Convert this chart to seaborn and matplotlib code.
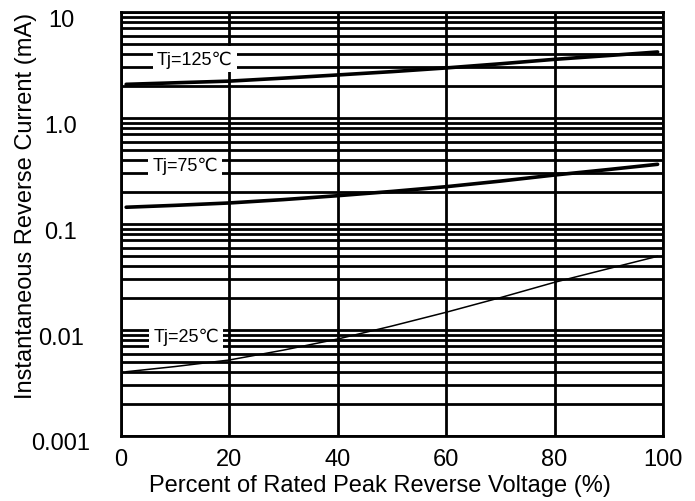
import matplotlib
matplotlib.use("Agg")
import matplotlib.pyplot as plt
import matplotlib.ticker as mticker
import matplotlib.transforms as mtransforms
import numpy as np
import pandas as pd
import seaborn as sns

# Percent of rated peak reverse voltage
voltage_pct = [1, 10, 20, 30, 40, 50, 60, 70, 80, 90, 99]
# Instantaneous reverse current (mA) at each junction temperature
current_125 = [2.08, 2.15, 2.23, 2.38, 2.55, 2.74, 2.97, 3.25, 3.58, 3.89, 4.20]
current_75 = [0.144, 0.150, 0.158, 0.170, 0.185, 0.203, 0.225, 0.254, 0.290, 0.327, 0.366]
current_25 = [0.00404, 0.00452, 0.00521, 0.00646, 0.00822, 0.0109, 0.0147, 0.0202, 0.0282, 0.0380, 0.0496]

curve_labels = ["Tj=125℃", "Tj=75℃", "Tj=25℃"]
label_x = [6.7, 5.8, 6.0]
label_y = [3.6, 0.36, 0.0088]

x_ticks = [0, 20, 40, 60, 80, 100]
y_ticks = [0.001, 0.01, 0.1, 1.0, 10]
y_tick_labels = ["0.001", "0.01", "0.1", "1.0", "10"]

sns.set_theme(style="white")
plt.rcParams["font.family"] = ["Liberation Sans", "DejaVu Sans"]

df = pd.DataFrame({
    "pct": voltage_pct * 3,
    "current": current_125 + current_75 + current_25,
    "tj": [curve_labels[0]] * len(voltage_pct)
          + [curve_labels[1]] * len(voltage_pct)
          + [curve_labels[2]] * len(voltage_pct),
})

fig = plt.figure(figsize=(6.95, 5.02), dpi=100)
ax = fig.add_axes([0.1737, 0.1295, 0.954 - 0.1737, 0.974 - 0.1295])

widths = {curve_labels[0]: 2.6, curve_labels[1]: 2.6, curve_labels[2]: 1.1}
for name in curve_labels:
    sns.lineplot(data=df[df["tj"] == name], x="pct", y="current", ax=ax,
                 color="black", linewidth=widths[name], zorder=3,
                 legend=False)

ax.set_yscale("log")
ax.set_xlim(0, 100)
ax.set_ylim(0.001, 10)

ax.set_xticks(x_ticks)
ax.set_xticklabels([str(v) for v in x_ticks])
ax.set_yticks(y_ticks)
ax.set_yticklabels(y_tick_labels)
ax.yaxis.set_minor_locator(mticker.LogLocator(base=10, subs=np.arange(2, 10)))
ax.yaxis.set_minor_formatter(mticker.NullFormatter())

ax.grid(True, which="both", axis="y", color="black", linewidth=2.0, zorder=1)
ax.grid(True, which="major", axis="x", color="black", linewidth=2.0, zorder=1)
ax.set_axisbelow(True)

for side in ax.spines.values():
    side.set_color("black")
    side.set_linewidth(2.0)

ax.tick_params(axis="both", which="both", length=0, labelsize=17,
               colors="black")
ax.tick_params(axis="x", pad=9)
ax.tick_params(axis="y", pad=43)
for lbl in ax.get_yticklabels():
    lbl.set_horizontalalignment("center")
    lbl.set_transform(lbl.get_transform()
                      + mtransforms.ScaledTranslation(0, -0.05, fig.dpi_scale_trans))

ax.set_xlabel("Percent of Rated Peak Reverse Voltage (%)", fontsize=17,
              color="black")
ax.set_ylabel("Instantaneous Reverse Current (mA)", fontsize=17,
              color="black")
ax.xaxis.set_label_coords(0.478, -0.09)
ax.yaxis.set_label_coords(-0.154, 0.545)

for name, tx, ty in zip(curve_labels, label_x, label_y):
    ax.text(tx, ty, name, fontsize=13, color="black", ha="left", va="center",
            zorder=4,
            bbox=dict(boxstyle="square,pad=0.22", facecolor="white",
                      edgecolor="none"))

fig.savefig("out.png", dpi=100, facecolor="white")
